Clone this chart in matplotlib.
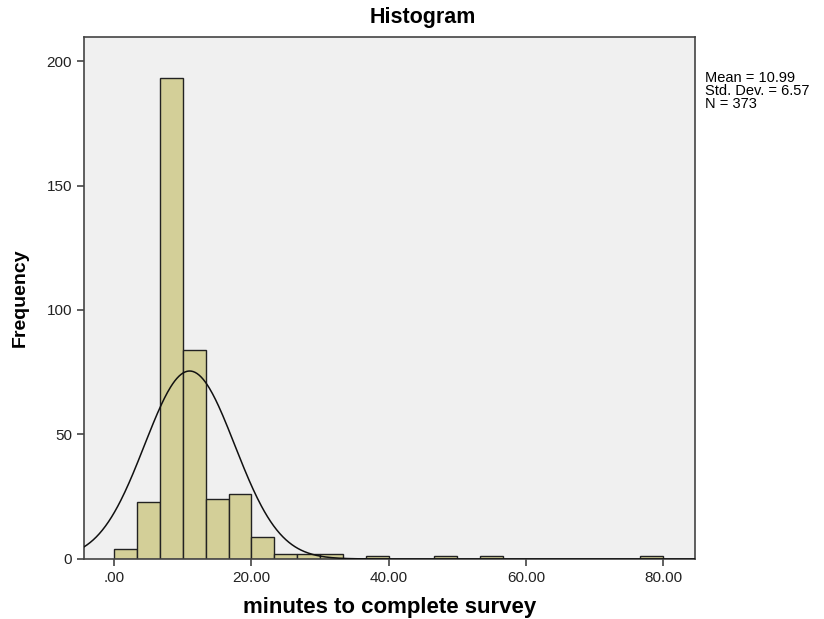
import numpy as np
import matplotlib.pyplot as plt

plt.rcParams['font.family'] = ['Liberation Sans', 'DejaVu Sans']

# Histogram bins (width 10/3 minutes) and counts
bin_width = 10 / 3
counts = [4, 23, 193, 84, 24, 26, 9, 2, 2, 2, 0, 1,
          0, 0, 1, 0, 1, 0, 0, 0, 0, 0, 0, 1]
bin_left = [i * bin_width for i in range(len(counts))]

mean = 10.99
std = 6.57
n = 373

xticks = [0, 20, 40, 60, 80]
xtick_labels = [".00", "20.00", "40.00", "60.00", "80.00"]
yticks = [0, 50, 100, 150, 200]

fig = plt.figure(figsize=(8.24, 6.19), dpi=100)
ax = fig.add_axes([0.102, 0.097, 0.741, 0.843])
ax.set_facecolor("#f0f0f0")

ax.bar(bin_left, counts, width=bin_width, align="edge",
       color="#d3cf98", edgecolor="#222222", linewidth=1.0, zorder=2)

# Normal curve scaled to counts
xs = np.linspace(-4.4, 84.6, 600)
ys = n * bin_width * np.exp(-0.5 * ((xs - mean) / std) ** 2) / (std * np.sqrt(2 * np.pi))
ax.plot(xs, ys, color="#111111", linewidth=1.1, zorder=3)

ax.set_xlim(-4.4, 84.6)
ax.set_ylim(0, 209.6)
ax.set_xticks(xticks)
ax.set_xticklabels(xtick_labels)
ax.set_yticks(yticks)
ax.tick_params(direction="out", length=5, width=1.2, color="#444444",
               labelsize=11, labelcolor="#222222")
for s in ax.spines.values():
    s.set_color("#444444")
    s.set_linewidth(1.2)

fig.text(0.513, 0.971, "Histogram", fontsize=15.5, fontweight="bold",
         ha="center", va="center")
ax.set_xlabel("minutes to complete survey", fontsize=16, fontweight="bold", labelpad=9)
ax.set_ylabel("Frequency", fontsize=14, fontweight="bold", labelpad=13)

fig.text(0.856, 0.885, f"Mean = {mean:.2f}\nStd. Dev. = {std:.2f}\nN = {n}",
         fontsize=10.5, va="top", ha="left", linespacing=0.9)

fig.savefig("out.png", dpi=100)
